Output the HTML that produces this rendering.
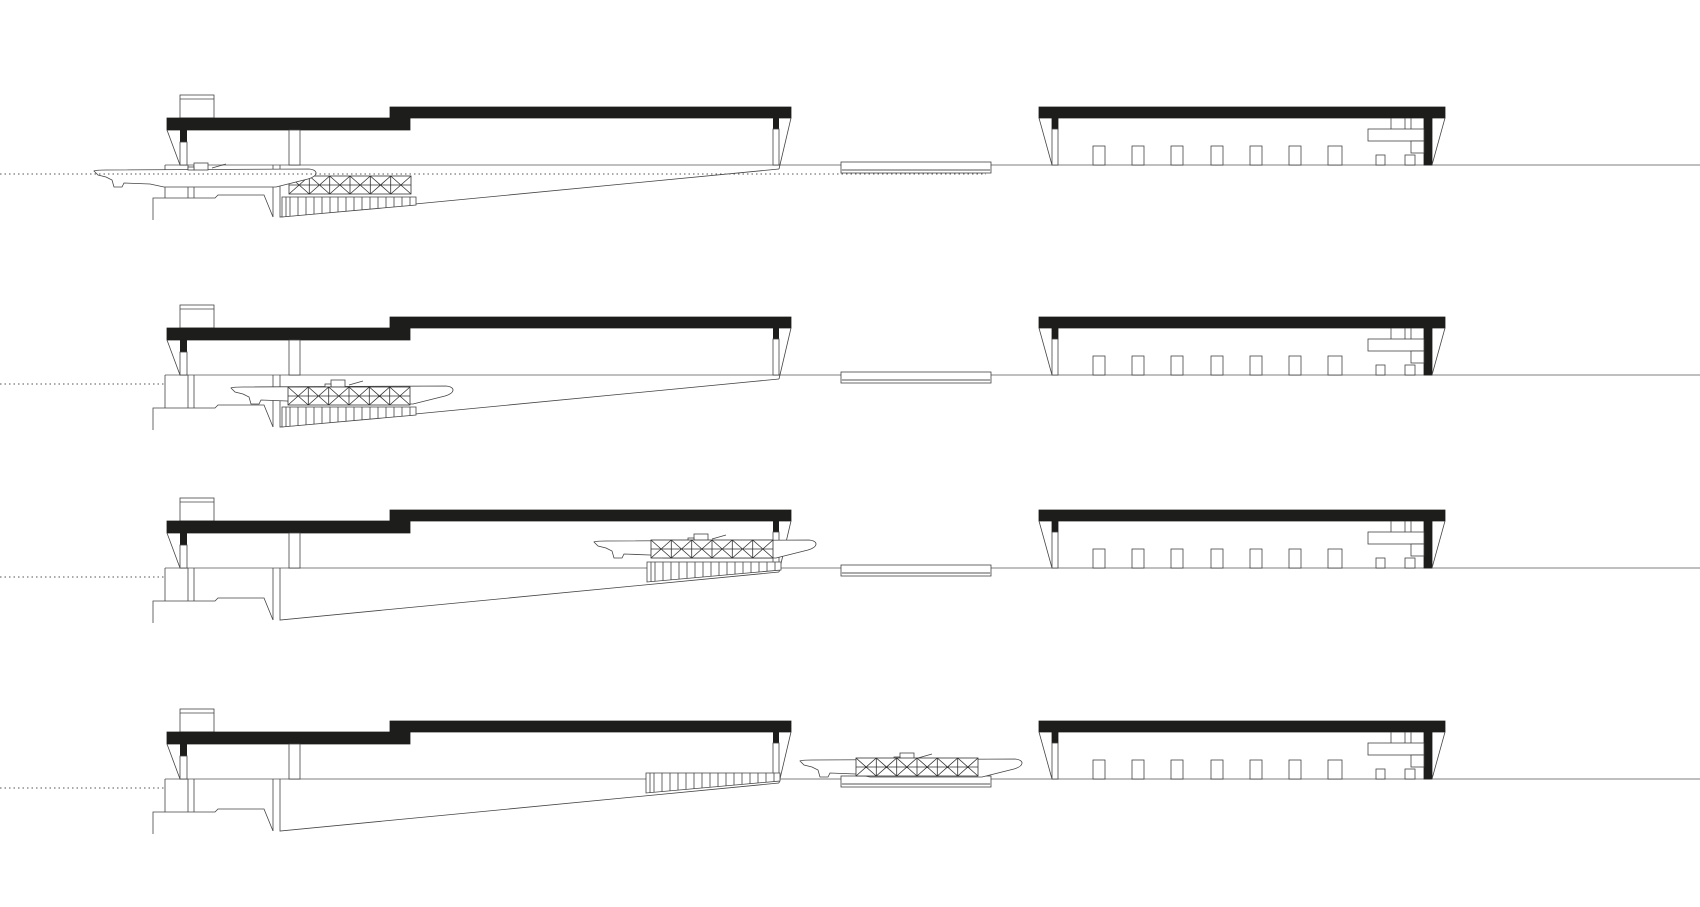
<!DOCTYPE html>
<html><head><meta charset="utf-8"><style>html,body{margin:0;padding:0;background:#fff}svg{display:block}</style></head>
<body>
<svg width="1700" height="907" viewBox="0 0 1700 907" xmlns="http://www.w3.org/2000/svg">
<defs>
<g id="ship" fill="#fff" stroke="#444" stroke-width="0.8">
<path d="M0,1 C2,0 8,0 12,0 L215,-1 C225,0 224,6 214,9 L198,13 L182,17 L70,17 L56,14 L30,13 L28,17 L20,17 L18,10 L12,7 L4,5 Z"/>
<rect x="100" y="-7" width="14" height="7"/>
<rect x="94" y="-3" width="6" height="3"/>
<path d="M118,-2 L132,-6" fill="none"/>
</g>
<g id="truss" fill="none" stroke="#333" stroke-width="0.8">
<rect x="0" y="0" width="122" height="18" fill="#fff"/>
<path d="M0,9 H122 M20.3,0 V18 M40.7,0 V18 M61,0 V18 M81.3,0 V18 M101.7,0 V18
M0,0 L20.3,18 M20.3,0 L0,18 M20.3,0 L40.7,18 M40.7,0 L20.3,18 M40.7,0 L61,18 M61,0 L40.7,18
M61,0 L81.3,18 M81.3,0 L61,18 M81.3,0 L101.7,18 M101.7,0 L81.3,18 M101.7,0 L122,18 M122,0 L101.7,18"/>
</g>
<g id="wedge" fill="none" stroke="#444" stroke-width="0.8">
<polygon points="0,0 134,0 134,8 0,20" fill="#fff"/>
<path d="M4,0V19.6 M8,0V19.3 M16,0V18.6 M24,0V17.9 M32,0V17.1 M40,0V16.4 M48,0V15.7 M56,0V15 M64,0V14.3 M72,0V13.6 M80,0V12.8 M88,0V12.1 M96,0V11.4 M104,0V10.7 M112,0V10 M120,0V9.3 M128,0V8.5"/>
</g>
<g id="bld" stroke="#444" stroke-width="0.8">
<line x1="165" y1="165" x2="1700" y2="165" stroke="#999" stroke-width="1.2"/>
<rect x="180" y="95" width="34" height="23" fill="#fff"/>
<line x1="180" y1="99" x2="214" y2="99"/>
<path d="M167,118 H390 V107 H791 V118 H410 V130 H167 Z" fill="#1d1d1b" stroke="#1d1d1b"/>
<rect x="180" y="130" width="7" height="12" fill="#1d1d1b" stroke="none"/>
<rect x="180" y="142" width="7" height="23" fill="#fff"/>
<line x1="167" y1="130" x2="180" y2="165"/>
<rect x="289" y="130" width="11" height="35" fill="#fff"/>
<rect x="773" y="118" width="6" height="11" fill="#1d1d1b" stroke="none"/>
<rect x="773" y="129" width="6" height="36" fill="#fff"/>
<line x1="791" y1="118" x2="779" y2="169"/>
<g fill="none">
<path d="M165,165 V198 M188,165 V198 M194,165 V198 M153,220 V198 H215 L218,195 H264 L273,217"/>
<path d="M273,165 V217 M280,165 V217 L779,169"/>
</g>
<rect x="841" y="162" width="150" height="11" fill="#fff"/>
<line x1="841" y1="170" x2="991" y2="170" stroke="#aaa" stroke-width="2"/>
<path d="M1039,107 H1445 V118 H1432 V165 H1424 V118 H1058 V129 H1052 V118 H1039 Z" fill="#1d1d1b" stroke="#1d1d1b"/>
<rect x="1052" y="129" width="6" height="36" fill="#fff"/>
<line x1="1039" y1="118" x2="1052" y2="165"/>
<line x1="1445" y1="118" x2="1432" y2="165"/>
<g fill="#fff">
<rect x="1093" y="146" width="12" height="19"/><rect x="1132" y="146" width="12" height="19"/>
<rect x="1171" y="146" width="12" height="19"/><rect x="1211" y="146" width="12" height="19"/>
<rect x="1250" y="146" width="12" height="19"/><rect x="1289" y="146" width="12" height="19"/>
<rect x="1328" y="146" width="14" height="19"/>
<rect x="1368" y="129" width="56" height="12"/>
<rect x="1411" y="141" width="13" height="12"/>
<rect x="1376" y="155" width="9" height="10"/><rect x="1405" y="155" width="10" height="10"/>
</g>
<path d="M1391,118 V129 M1405,118 V129 M1411,118 V129" fill="none"/>
</g>
</defs>

<g>
<use href="#bld"/>
<use href="#wedge" x="282" y="197"/>
<use href="#truss" x="289" y="176"/>
<use href="#ship" x="94" y="170"/>
<line x1="0" y1="174" x2="986" y2="174" stroke="#555" stroke-width="1" stroke-dasharray="1.5,3"/>
</g>
<g transform="translate(0,210)">
<use href="#bld"/>
<use href="#wedge" x="282" y="197"/>
<use href="#ship" x="231" y="177"/>
<use href="#truss" x="288" y="177"/>
<line x1="0" y1="174" x2="165" y2="174" stroke="#555" stroke-width="1" stroke-dasharray="1.5,3"/>
</g>
<g transform="translate(0,403)">
<use href="#bld"/>
<use href="#wedge" x="647" y="159"/>
<use href="#ship" x="594" y="138"/>
<use href="#truss" x="651" y="137"/>
<line x1="0" y1="174" x2="165" y2="174" stroke="#555" stroke-width="1" stroke-dasharray="1.5,3"/>
</g>
<g transform="translate(0,614)">
<use href="#bld"/>
<use href="#wedge" x="646" y="159"/>
<use href="#ship" x="800" y="146"/>
<use href="#truss" x="856" y="144"/>
<line x1="0" y1="174" x2="165" y2="174" stroke="#555" stroke-width="1" stroke-dasharray="1.5,3"/>
</g>
</svg>
</body></html>
